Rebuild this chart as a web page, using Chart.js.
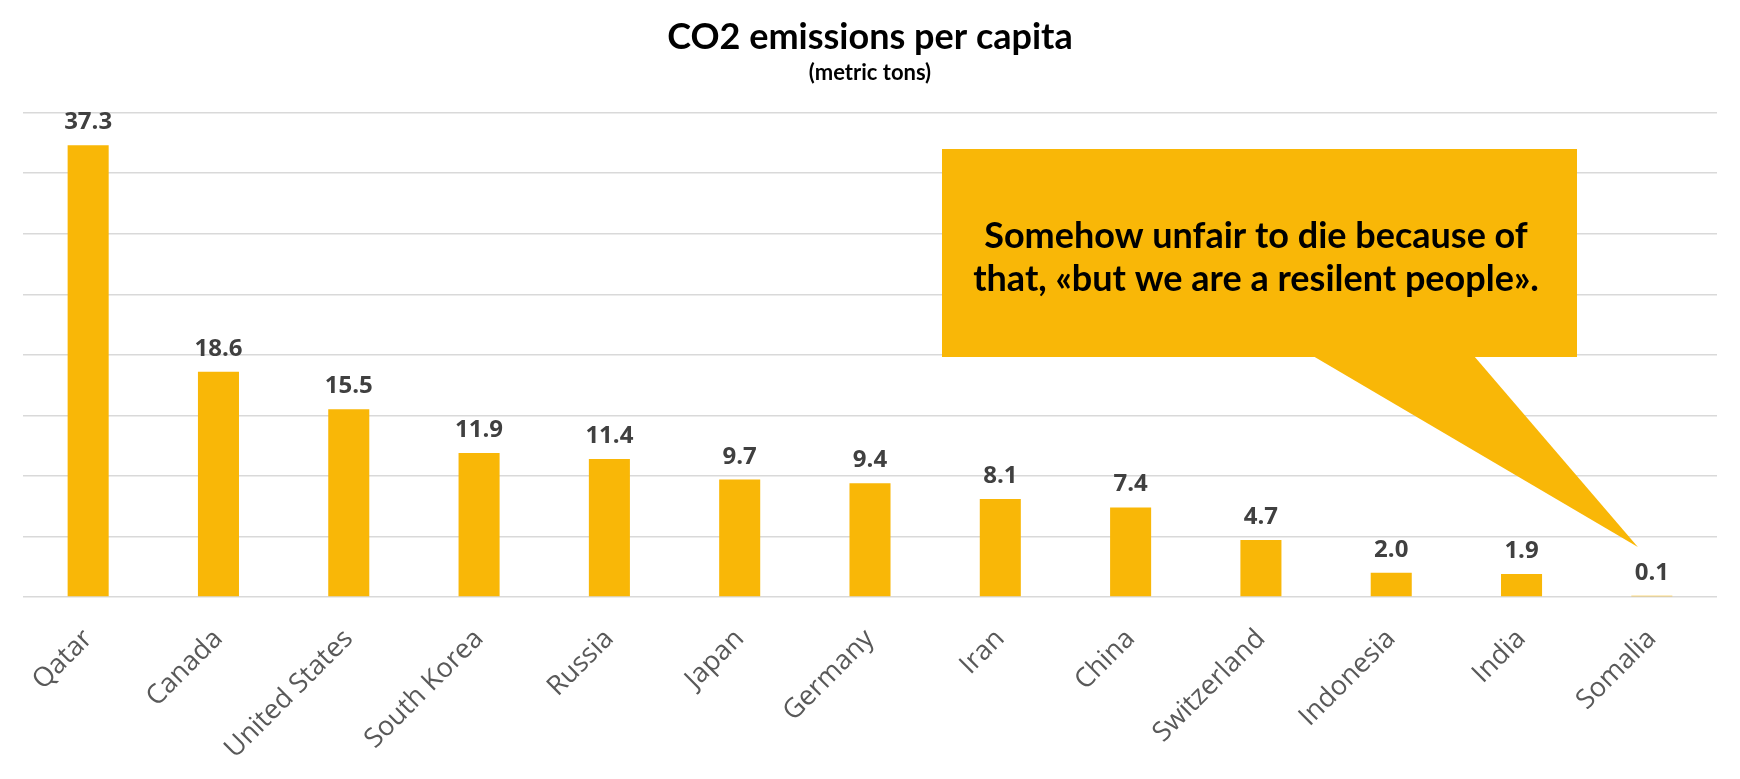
<!DOCTYPE html>
<html>
<head>
<meta charset="utf-8">
<title>CO2 emissions per capita</title>
<script src="https://cdn.jsdelivr.net/npm/chart.js@4"></script>
<style>
  html, body { margin: 0; padding: 0; background: #fff; }
  #wrap { width: 1740px; height: 779px; }
</style>
</head>
<body>
<div id="wrap"><canvas id="co2" width="1740" height="779"></canvas></div>
<script>
// values (metric tons per person)
const countries = ['Qatar', 'Canada', 'United States', 'South Korea', 'Russia', 'Japan',
  'Germany', 'Iran', 'China', 'Switzerland', 'Indonesia', 'India', 'Somalia'];
const emissions = [37.3, 18.6, 15.5, 11.9, 11.4, 9.7, 9.4, 8.1, 7.4, 4.7, 2.0, 1.9, 0.1];
const calloutLines = ['Somehow unfair to die because of', 'that, \u00abbut we are a resilent people\u00bb.'];

const GOLD = '#F9B707';

// numbers above the bars
const valueLabels = {
  id: 'valueLabels',
  afterDatasetsDraw(chart) {
    const ctx = chart.ctx;
    const meta = chart.getDatasetMeta(0);
    ctx.save();
    ctx.font = 'bold 24px "Open Sans"';
    ctx.fillStyle = '#404040';
    ctx.textAlign = 'center';
    ctx.textBaseline = 'alphabetic';
    meta.data.forEach((bar, i) => {
      ctx.fillText(emissions[i].toFixed(1), bar.x, bar.y - 16);
    });
    ctx.restore();
  }
};

// speech bubble pointing at Somalia
const callout = {
  id: 'callout',
  afterDatasetsDraw(chart) {
    const { ctx, scales: { x, y } } = chart;
    const box = { left: 942, top: 149, right: 1577, bottom: 357 };
    const tipX = x.getPixelForValue(countries.length - 1) - 14;
    const tipY = y.getPixelForValue(0) - 50;
    ctx.save();
    ctx.fillStyle = GOLD;
    ctx.fillRect(box.left, box.top, box.right - box.left, box.bottom - box.top);
    ctx.beginPath();
    ctx.moveTo(1313, box.bottom - 1);
    ctx.lineTo(tipX, tipY);
    ctx.lineTo(1474, box.bottom - 1);
    ctx.closePath();
    ctx.fill();

    ctx.fillStyle = '#000';
    ctx.font = 'bold 36px Lato';
    ctx.textAlign = 'center';
    ctx.textBaseline = 'alphabetic';
    ctx.fillText(calloutLines[0], 1256, 248);
    ctx.fillText(calloutLines[1], 1256, 291);
    ctx.restore();
  }
};

const ctx = document.getElementById('co2').getContext('2d');
new Chart(ctx, {
  type: 'bar',
  data: {
    labels: countries,
    datasets: [{
      data: emissions,
      backgroundColor: GOLD,
      borderWidth: 0,
      categoryPercentage: 1,
      barPercentage: 0.315
    }]
  },
  options: {
    responsive: false,
    animation: false,
    devicePixelRatio: 1,
    layout: { padding: { left: 23, right: 23, top: 0, bottom: 0 } },
    plugins: {
      legend: { display: false },
      tooltip: { enabled: false },
      title: {
        display: true,
        text: 'CO2 emissions per capita',
        color: '#000',
        font: { family: 'Lato', size: 36, weight: 'bold' },
        padding: { top: 16, bottom: 1 }
      },
      subtitle: {
        display: true,
        text: '(metric tons)',
        color: '#000',
        font: { family: 'Lato', size: 22, weight: 'bold' },
        padding: { top: 0, bottom: 26 }
      }
    },
    scales: {
      x: {
        grid: { display: false, drawTicks: false },
        border: { display: false },
        ticks: {
          color: '#595959',
          font: { family: 'Open Sans', size: 27 },
          minRotation: 45,
          maxRotation: 45,
          autoSkip: false,
          padding: 26
        },
        afterFit(scale) { scale.height = 182; }
      },
      y: {
        min: 0,
        max: 40,
        ticks: { display: false, stepSize: 5 },
        grid: { color: '#D9D9D9', lineWidth: 1.5, drawTicks: false },
        border: { display: false },
        afterFit(scale) { scale.width = 0; }
      }
    }
  },
  plugins: [valueLabels, callout]
});
</script>
</body>
</html>
